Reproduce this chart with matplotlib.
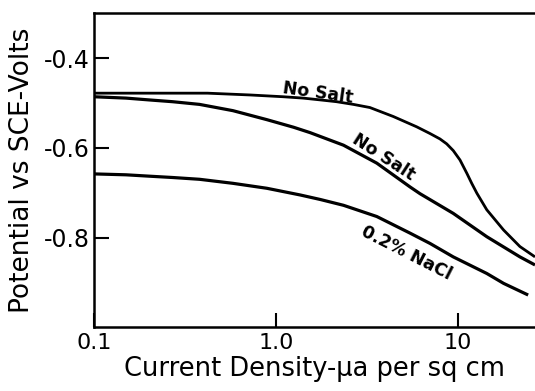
#!/usr/bin/env python3
"""
plot.py

Polarization curves: electrode potential against current density (log scale)
for two runs without salt and one run in 0.2% NaCl.
"""

import matplotlib

matplotlib.use("Agg")

import matplotlib.pyplot as plt
from matplotlib.ticker import NullLocator

# current density (ua per sq cm) and potential (V vs SCE) for each run
no_salt_a_i = [0.1, 0.2, 0.42, 0.72, 1.1, 1.41, 1.75, 2.15, 2.66, 3.28, 4.41, 5.93,
               7.02, 7.96, 8.67, 9.42, 10.26, 11.2, 11.9, 12.7, 14.4, 17.8, 21.9, 26.5]
no_salt_a_e = [-0.478, -0.478, -0.478, -0.482, -0.486, -0.489, -0.493, -0.497, -0.503,
               -0.510, -0.530, -0.553, -0.568, -0.580, -0.591, -0.606, -0.627, -0.657,
               -0.679, -0.701, -0.738, -0.783, -0.820, -0.843]

no_salt_b_i = [0.1, 0.15, 0.2, 0.27, 0.38, 0.58, 0.89, 1.25, 1.54, 2.35, 3.58, 5.45,
               6.18, 9.42, 14.4, 21.9, 26.5]
no_salt_b_e = [-0.486, -0.489, -0.493, -0.497, -0.503, -0.517, -0.537, -0.554, -0.566,
               -0.594, -0.634, -0.687, -0.702, -0.746, -0.798, -0.843, -0.861]

nacl_i = [0.1, 0.15, 0.2, 0.27, 0.38, 0.58, 0.89, 1.36, 1.75, 2.35, 3.58, 5.45, 7.02,
          9.42, 14.4, 17.8, 24.3]
nacl_e = [-0.658, -0.660, -0.663, -0.666, -0.670, -0.679, -0.690, -0.705, -0.715,
          -0.728, -0.753, -0.790, -0.813, -0.843, -0.880, -0.902, -0.928]

x_ticks = [0.1, 1.0, 10.0]
x_tick_labels = ["0.1", "1.0", "10"]
y_ticks = [-0.4, -0.6, -0.8]
y_tick_labels = ["-0.4", "-0.6", "-0.8"]

# curve annotations: text, (current, potential), rotation in degrees
curve_labels = [
    ("No Salt", (1.70, -0.477), -8),
    ("No Salt", (3.92, -0.621), -33),
    ("0.2% NaCl", (5.21, -0.834), -27),
]


def main() -> int:
    plt.rcParams["font.family"] = ["DejaVu Sans"]

    fig = plt.figure(figsize=(5.35, 3.91), dpi=100)
    ax = fig.add_axes([0.1757, 0.1629, 1.0 - 0.1757, 0.803])

    style = dict(color="black", solid_capstyle="butt", solid_joinstyle="round")
    ax.plot(no_salt_a_i, no_salt_a_e, lw=2.0, **style)
    ax.plot(no_salt_b_i, no_salt_b_e, lw=2.3, **style)
    ax.plot(nacl_i, nacl_e, lw=2.3, **style)

    ax.set_xscale("log")
    ax.set_xlim(0.1, 26.5)
    ax.set_ylim(-1.0, -0.3)

    ax.xaxis.set_minor_locator(NullLocator())
    ax.set_xticks(x_ticks)
    ax.set_xticklabels(x_tick_labels, fontsize=16)
    ax.set_yticks(y_ticks)
    ax.set_yticklabels(y_tick_labels, fontsize=17)

    ax.tick_params(axis="x", direction="in", length=10, width=1.5, pad=4)
    ax.tick_params(axis="y", direction="in", length=11, width=1.5, pad=3)

    for side in ("left", "bottom", "top"):
        ax.spines[side].set_linewidth(1.8)
    ax.spines["right"].set_visible(False)

    ax.set_xlabel("Current Density-\u03bca per sq cm", fontsize=18.5, labelpad=2)
    ax.set_ylabel("Potential vs SCE-Volts", fontsize=19, labelpad=6)

    for text, (xi, ye), rot in curve_labels:
        ax.text(xi, ye, text, fontsize=12.5, fontweight="bold", rotation=rot,
                rotation_mode="anchor", ha="center", va="center")

    fig.savefig("out.png", dpi=100, facecolor="white")
    plt.close(fig)
    return 0


if __name__ == "__main__":
    raise SystemExit(main())
